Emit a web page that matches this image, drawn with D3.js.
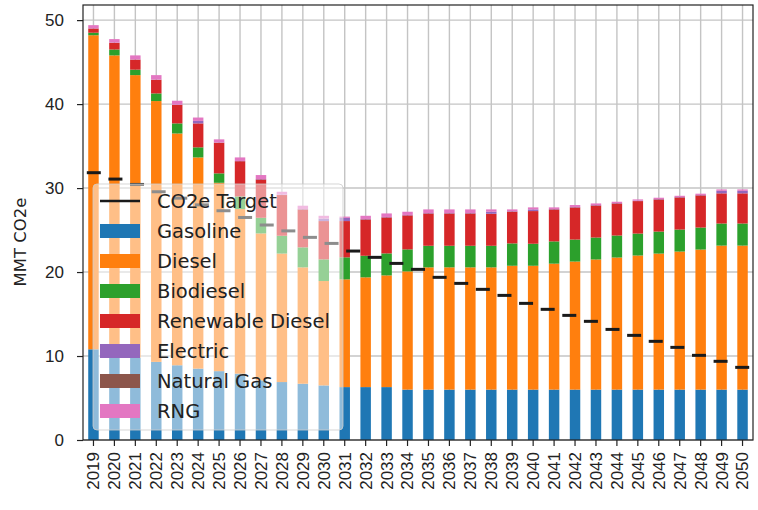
<!DOCTYPE html>
<html>
<head>
<meta charset="utf-8">
<script src="https://cdn.jsdelivr.net/npm/d3@7"></script>
<style>
  body { margin: 0; background: #fff; }
  svg { display: block; font-family: "DejaVu Sans", sans-serif; }
</style>
</head>
<body>
<svg id="chart"></svg>
<script>
// years on the x axis
const years = d3.range(2019, 2051).map(String);

const gasoline = [10.8, 10.2, 9.8, 9.3, 8.9, 8.5, 8.2, 7.9, 7.1, 6.9, 6.7, 6.5, 6.3, 6.3, 6.3,
  6.0, 6.0, 6.0, 6.0, 6.0, 6.0, 6.0, 6.0, 6.0, 6.0, 6.0, 6.0, 6.0, 6.0, 6.0, 6.0, 6.0];
const diesel = [37.4, 35.6, 33.65, 31.06, 27.6, 25.15, 22.43, 19.6, 17.5, 15.3, 13.86, 12.43, 12.83, 13.07, 13.3,
  14.08, 14.56, 14.56, 14.56, 14.56, 14.75, 14.75, 15.0, 15.25, 15.5, 15.73, 15.97, 16.2, 16.44, 16.68, 17.15, 17.15];
const biodiesel = [0.3, 0.7, 0.65, 0.91, 1.2, 1.2, 1.12, 1.5, 1.86, 2.12, 2.38, 2.58, 2.62, 2.57, 2.62,
  2.62, 2.57, 2.57, 2.57, 2.57, 2.66, 2.62, 2.65, 2.62, 2.61, 2.62, 2.61, 2.62, 2.62, 2.62, 2.63, 2.63];
const renewableDiesel = [0.5, 0.8, 1.2, 1.63, 2.2, 2.85, 3.65, 4.2, 4.57, 4.85, 4.52, 4.56, 4.32, 4.33, 4.29,
  4.05, 3.85, 3.85, 3.85, 3.81, 3.79, 3.89, 3.81, 3.83, 3.82, 3.82, 3.87, 3.83, 3.83, 3.83, 3.59, 3.59];
const electric = [0.02, 0.02, 0.02, 0.02, 0.03, 0.3, 0.03, 0.03, 0.05, 0.05, 0.05, 0.3, 0.38, 0.05, 0.05,
  0.05, 0.05, 0.05, 0.05, 0.24, 0.05, 0.2, 0.05, 0.05, 0.05, 0.05, 0.05, 0.05, 0.05, 0.05, 0.3, 0.3];
const naturalGas = [0, 0, 0, 0, 0, 0, 0, 0, 0, 0, 0, 0, 0, 0, 0,
  0, 0, 0, 0, 0, 0, 0, 0, 0, 0, 0, 0, 0, 0, 0, 0, 0];
const rng = [0.38, 0.42, 0.48, 0.53, 0.47, 0.4, 0.37, 0.42, 0.47, 0.34, 0.39, 0.33, 0.15, 0.38, 0.42,
  0.38, 0.43, 0.43, 0.43, 0.28, 0.21, 0.24, 0.19, 0.23, 0.19, 0.15, 0.15, 0.15, 0.14, 0.15, 0.17, 0.17];

// target is drawn on its own 31 slots spread over the same width
const targetSlots = d3.range(0, 31);
const target = [31.83, 31.07, 30.43, 29.56, 28.8, 28.0, 27.3, 26.5, 25.6, 24.9, 24.13, 23.41, 22.5, 21.75, 21.03,
  20.32, 19.37, 18.65, 17.94, 17.22, 16.27, 15.56, 14.84, 14.13, 13.17, 12.46, 11.75, 11.03, 10.08, 9.37, 8.65];

const yTicks = [0, 10, 20, 30, 40, 50];

const series = [
  {key: 'gasoline', label: 'Gasoline', color: '#1f77b4', values: gasoline},
  {key: 'diesel', label: 'Diesel', color: '#ff7f0e', values: diesel},
  {key: 'biodiesel', label: 'Biodiesel', color: '#2ca02c', values: biodiesel},
  {key: 'rd', label: 'Renewable Diesel', color: '#d62728', values: renewableDiesel},
  {key: 'electric', label: 'Electric', color: '#9467bd', values: electric},
  {key: 'ng', label: 'Natural Gas', color: '#8c564b', values: naturalGas},
  {key: 'rng', label: 'RNG', color: '#e377c2', values: rng}
];

const margin = {top: 5, bottom: 70, left: 83, right: 5};
const width = 758 - margin.left - margin.right;
const height = 510 - margin.top - margin.bottom;

const svg = d3.select('#chart')
.attr('width', 758)
.attr('height', 510)
.append('g')
.attr('transform', `translate(${margin.left}, ${margin.top})`);

const table = years.map((yr, i) => {
  const row = {year: yr};
  series.forEach(s => { row[s.key] = s.values[i]; });
  return row;
});

const stacked = d3.stack().keys(series.map(s => s.key))(table);

const x = d3.scaleBand()
.domain(years)
.range([0, width])
.paddingInner(0.5)
.paddingOuter(0.25);

const xT = d3.scaleBand()
.domain(targetSlots)
.range([0, width]);

const y = d3.scaleLinear()
.domain([0, 51.8])
.range([height, 0]);

// grid below the bars
svg.append('g')
.selectAll('line.vg')
.data(years)
.enter()
.append('line')
.attr('x1', d => x(d) + x.bandwidth() / 2)
.attr('x2', d => x(d) + x.bandwidth() / 2)
.attr('y1', 0).attr('y2', height)
.attr('stroke', '#c4c4c4')
.attr('stroke-width', 1.4);

svg.append('g')
.selectAll('line.hg')
.data(yTicks)
.enter()
.append('line')
.attr('x1', 0).attr('x2', width)
.attr('y1', d => y(d)).attr('y2', d => y(d))
.attr('stroke', '#c4c4c4')
.attr('stroke-width', 1.4);

svg.append('g')
.selectAll('g')
.data(stacked)
.enter()
.append('g')
.attr('fill', (d, i) => series[i].color)
.selectAll('rect')
.data(d => d)
.enter()
.append('rect')
.attr('x', d => x(d.data.year))
.attr('y', d => y(d[1]))
.attr('width', x.bandwidth())
.attr('height', d => Math.max(0, y(d[0]) - y(d[1])));

svg.append('g')
.selectAll('line')
.data(targetSlots)
.enter()
.append('line')
.attr('x1', d => xT(d) + xT.bandwidth() / 2 - 7)
.attr('x2', d => xT(d) + xT.bandwidth() / 2 + 7)
.attr('y1', d => y(target[d]))
.attr('y2', d => y(target[d]))
.attr('stroke', '#1a1a1a')
.attr('stroke-width', 3);

// axes
const xAxis = svg.append('g')
.attr('transform', `translate(0, ${height})`)
.call(d3.axisBottom(x).tickSize(6).tickSizeOuter(0));

xAxis.selectAll('text')
.attr('transform', 'rotate(-90)')
.attr('x', -12)
.attr('y', 0)
.attr('dy', '0.35em')
.attr('text-anchor', 'end')
.style('font-size', '17px')
.style('fill', '#222');

const yAxis = svg.append('g')
.call(d3.axisLeft(y).tickValues(yTicks).tickSize(6).tickSizeOuter(0));

yAxis.selectAll('text')
.attr('x', -19)
.style('font-size', '17px')
.style('fill', '#222');

svg.selectAll('.domain').remove();
svg.selectAll('.tick line').attr('stroke', '#222').attr('stroke-width', 1.2);

svg.append('rect')
.attr('width', width)
.attr('height', height)
.attr('fill', 'none')
.attr('stroke', '#222')
.attr('stroke-width', 1.2);

svg.append('text')
.attr('transform', 'rotate(-90)')
.attr('x', -237)
.attr('y', -63)
.attr('dy', '0.35em')
.attr('text-anchor', 'middle')
.style('font-size', '16.5px')
.style('fill', '#222')
.text('MMT CO2e');

// legend
const legend = svg.append('g').attr('transform', 'translate(10, 179)');

legend.append('rect')
.attr('width', 250)
.attr('height', 246)
.attr('rx', 4)
.attr('fill', 'rgba(255,255,255,0.5)')
.attr('stroke', 'rgba(204,204,204,0.8)')
.attr('stroke-width', 1);

legend.append('line')
.attr('x1', 7).attr('x2', 47)
.attr('y1', 17).attr('y2', 17)
.attr('stroke', '#1a1a1a')
.attr('stroke-width', 2.7);

legend.append('text')
.attr('x', 64).attr('y', 17)
.attr('dy', '0.35em')
.style('font-size', '19.5px')
.style('fill', '#222')
.text('CO2e Target');

series.forEach((s, i) => {
  const cy = 47 + i * 30;
  legend.append('rect')
  .attr('x', 7).attr('y', cy - 7)
  .attr('width', 40).attr('height', 14)
  .attr('fill', s.color);
  legend.append('text')
  .attr('x', 64).attr('y', cy)
  .attr('dy', '0.35em')
  .style('font-size', '19.5px')
  .style('fill', '#222')
  .text(s.label);
});
</script>
</body>
</html>
